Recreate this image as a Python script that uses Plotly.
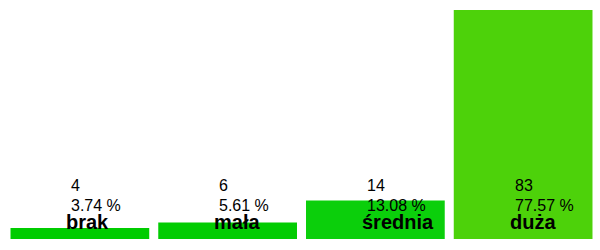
import plotly.graph_objects as go

categories = ["brak", "mała", "średnia", "duża"]
counts = [4, 6, 14, 83]
percents = ["3.74 %", "5.61 %", "13.08 %", "77.57 %"]
bar_colors = ["#00cc00", "#02cc02", "#0bcf0b", "#4dd20a"]

fig = go.Figure(
    go.Bar(
        x=categories,
        y=counts,
        marker=dict(color=bar_colors, line=dict(width=0)),
        hoverinfo="skip",
    )
)

annotations = []
for cat, n, p in zip(categories, counts, percents):
    common = dict(x=cat, xref="x", y=0, yref="paper", xanchor="left",
                  yanchor="middle", showarrow=False, borderpad=0)
    annotations.append(dict(text=str(n), xshift=-9.5, yshift=56,
                            font=dict(family="Liberation Sans, Arial", size=16, color="#000"), **common))
    annotations.append(dict(text=p, xshift=-9.5, yshift=36,
                            font=dict(family="Liberation Sans, Arial", size=16, color="#000"), **common))
    annotations.append(dict(text="<b>" + cat + "</b>", xshift=-14.5, yshift=19,
                            font=dict(family="Liberation Sans, Arial", size=20, color="#000"), **common))

fig.update_layout(
    width=600,
    height=250,
    margin=dict(l=5.5, r=2.5, t=10, b=9, pad=0),
    paper_bgcolor="white",
    plot_bgcolor="white",
    bargap=0.061,
    showlegend=False,
    xaxis=dict(visible=False, range=[-0.5, 3.5]),
    yaxis=dict(visible=False, range=[-0.72, 83]),
    annotations=annotations,
)

fig.write_html("out.html")
